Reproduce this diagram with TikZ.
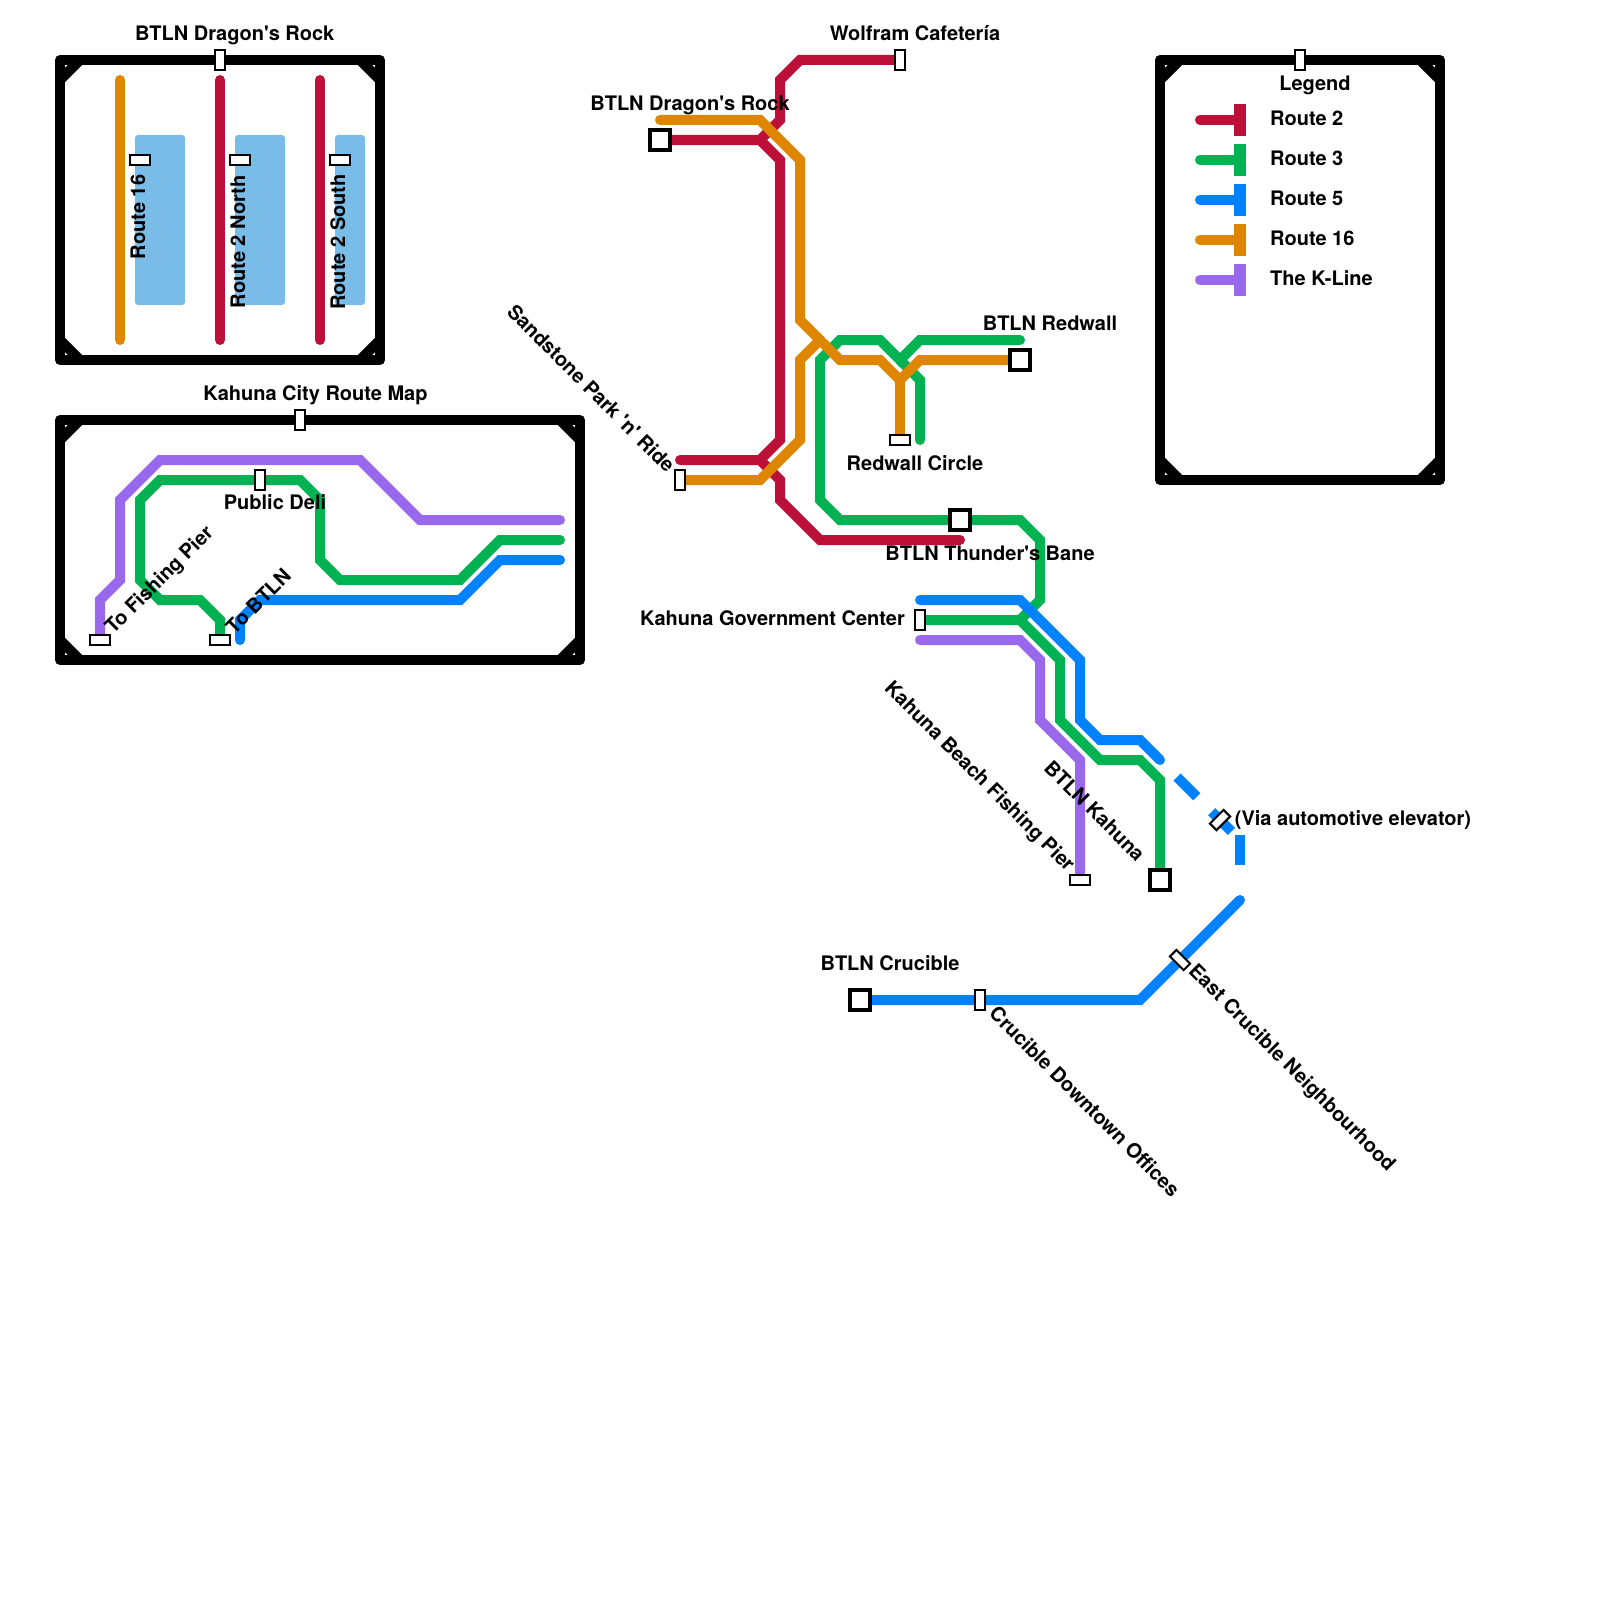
\documentclass[tikz,border=0pt]{standalone}
\usepackage{fontspec}
\newfontfamily\mapfont{TeX Gyre Heros}
\usepackage{xcolor}
\definecolor{routered}{RGB}{189,16,56}
\definecolor{routegreen}{RGB}{0,178,81}
\definecolor{routeblue}{RGB}{0,130,255}
\definecolor{routeorange}{RGB}{223,134,0}
\definecolor{routepurple}{RGB}{154,104,236}
\definecolor{waterblue}{RGB}{122,188,232}
\usetikzlibrary{backgrounds}

\begin{document}
\begin{tikzpicture}[
    x=20pt, y=-20pt,
    metro/.style={line width=10pt, line cap=round, miter limit=10},
    framebox/.style={draw=black, line width=10pt, line join=round},
    framecut/.style={draw=black, line width=10pt},
    water/.style={fill=waterblue, rounded corners=3pt},
    legbar/.style={rectangle, minimum width=12pt, minimum height=32pt, inner sep=0pt},
    stop/.style={rectangle, draw=black, fill=white, line width=2pt,
                 minimum width=19.3pt, minimum height=9.3pt, inner sep=0pt},
    stopv/.style={stop, rotate=90},
    hub/.style={rectangle, draw=black, fill=white, line width=4pt,
                minimum size=19.5pt, inner sep=0pt},
    maptext/.style={font=\mapfont\bfseries\fontsize{20}{24}\selectfont, inner sep=0pt,
                    text height=19.5pt, text depth=4.2pt},
  ]
    \useasboundingbox (0,0) rectangle (80,80);

    % inset frames
    \foreach \xa/\ya/\xb/\yb in {3/3/19/18, 3/21/29/33, 58/3/72/24} {
      \draw[framebox] (\xa,\ya) rectangle (\xb,\yb);
      \draw[framecut] (\xa,\ya+1) -- (\xa+1,\ya);
      \draw[framecut] (\xb-1,\ya) -- (\xb,\ya+1);
      \draw[framecut] (\xa,\yb-1) -- (\xa+1,\yb);
      \draw[framecut] (\xb-1,\yb) -- (\xb,\yb-1);
    }

    % stations
    \node[stopv] (dragoninset) at (11,3) {};
    \node[stop] (insetsixteen) at (7,8) {};
    \node[stop] (insetnorth) at (12,8) {};
    \node[stop] (insetsouth) at (17,8) {};
    \node[stopv] (kahunainset) at (15,21) {};
    \node[stopv] (legendstop) at (65,3) {};
    \node[stopv] (deli) at (13,24) {};
    \node[stop] (toPier) at (5,32) {};
    \node[stop] (toBtlnGreen) at (11,32) {};
    \node[stopv] (wolfram) at (45,3) {};
    \node[hub] (dragon) at (33,7) {};
    \node[hub] (redwall) at (51,18) {};
    \node[stop] (circle) at (45,22) {};
    \node[stopv] (sandstone) at (34,24) {};
    \node[hub] (thunder) at (48,26) {};
    \node[stopv] (govt) at (46,31) {};
    \node[stop] (pier) at (54,44) {};
    \node[hub] (kahuna) at (58,44) {};
    \node[stop, rotate=45] (elevator) at (61,41) {};
    \node[stop, rotate=-45] (eastcrucible) at (59,48) {};
    \node[stopv] (downtown) at (49,50) {};
    \node[hub] (crucible) at (43,50) {};

    % free line ends
    \coordinate (orangeA) at (6,4);
    \coordinate (orangeB) at (6,17);
    \coordinate (northA) at (11,4);
    \coordinate (northB) at (11,17);
    \coordinate (southA) at (16,4);
    \coordinate (southB) at (16,17);
    \coordinate (purpleEnd) at (28,26);
    \coordinate (greenEnd) at (28,27);
    \coordinate (blueEnd) at (28,28);
    \coordinate (blueStub) at (12,32);
    \coordinate (redTop) at (34,23);
    \coordinate (redEnd) at (48,27);
    \coordinate (orangeTop) at (33,6);
    \coordinate (orangeMerge) at (41,17);
    \coordinate (greenTop) at (51,17);
    \coordinate (greenStub) at (46,22);
    \coordinate (govBlue) at (46,30);
    \coordinate (govPurple) at (46,32);
    \coordinate (blueCut) at (58,38);
    \coordinate (dashA) at (58.85,38.85);
    \coordinate (dashB) at (62,42);
    \coordinate (shaftA) at (62,41.75);
    \coordinate (shaftB) at (62,43.25);
    \coordinate (blueLow) at (62,45);

    \begin{scope}[on background layer]
      % water
      \fill[water] (6.75,6.75) rectangle (9.25,15.25);
      \fill[water] (11.75,6.75) rectangle (14.25,15.25);
      \fill[water] (16.75,6.75) rectangle (18.25,15.25);
      % inset lines
      \draw[metro, routeorange] (orangeA) -- (orangeB);
      \draw[metro, routered] (northA) -- (northB);
      \draw[metro, routered] (southA) -- (southB);
      \draw[metro, routepurple] (toPier) -- (5,30) -- (6,29) -- (6,25) -- (8,23) -- (18,23) -- (21,26) -- (purpleEnd);
      \draw[metro, routegreen] (toBtlnGreen) -- (11,31) -- (10,30) -- (8,30) -- (7,29) -- (7,25) -- (8,24) -- (15,24) -- (16,25) -- (16,28) -- (17,29) -- (23,29) -- (25,27) -- (greenEnd);
      \draw[metro, routeblue] (blueStub) -- (12,31) -- (13,30) -- (23,30) -- (25,28) -- (blueEnd);
      % route 2
      \draw[metro, routered] (wolfram) -- (40,3) -- (39,4) -- (39,6) -- (38,7) -- (dragon);
      \draw[metro, routered] (38,7) -- (39,8) -- (39,22) -- (38,23) -- (redTop);
      \draw[metro, routered] (38,23) -- (39,24) -- (39,25) -- (41,27) -- (redEnd);
      % route 3
      \draw[metro, routegreen] (greenTop) -- (46,17) -- (45,18) -- (44,17) -- (42,17) -- (41,18) -- (41,25) -- (42,26) -- (51,26) -- (52,27) -- (52,30) -- (51,31) -- (govt);
      \draw[metro, routegreen] (45,18) -- (46,19) -- (greenStub);
      \draw[metro, routegreen] (51,31) -- (53,33) -- (53,36) -- (55,38) -- (57,38) -- (58,39) -- (kahuna);
      % route 5
      \draw[metro, routeblue] (govBlue) -- (51,30) -- (54,33) -- (54,36) -- (55,37) -- (57,37) -- (blueCut);
      \draw[line width=10pt, routeblue, dash pattern=on 28pt off 21pt] (dashA) -- (dashB);
      \draw[line width=10pt, routeblue] (shaftA) -- (shaftB);
      \draw[metro, routeblue] (blueLow) -- (57,50) -- (crucible);
      % route 16
      \draw[metro, routeorange] (orangeTop) -- (38,6) -- (40,8) -- (40,16) -- (42,18) -- (44,18) -- (45,19) -- (46,18) -- (redwall);
      \draw[metro, routeorange] (45,19) -- (circle);
      \draw[metro, routeorange] (sandstone) -- (38,24) -- (40,22) -- (40,18) -- (orangeMerge);
      % k-line
      \draw[metro, routepurple] (govPurple) -- (51,32) -- (52,33) -- (52,36) -- (54,38) -- (pier);
    \end{scope}

    % legend
    \foreach \yy/\col/\txt in {6/routered/Route 2, 8/routegreen/Route 3, 10/routeblue/Route 5,
                               12/routeorange/Route 16, 14/routepurple/The K-Line} {
      \coordinate (legstart\yy) at (60,\yy);
      \node[legbar, fill=\col] (legbar\yy) at (62,\yy) {};
      \draw[metro, \col] (legstart\yy) -- (legbar\yy.center);
      \node[maptext, anchor=west] (legtext\yy) at (63.5,\yy-0.12) {\txt};
    }

    % labels
    \node[maptext] (titledragon) at (234.7pt,-32.6pt) {BTLN Dragon's Rock};
    \node[maptext] (titlekahuna) at (315.5pt,-393pt) {Kahuna City Route Map};
    \node[maptext] (titlelegend) at (1315pt,-83pt) {Legend};
    \node[maptext, rotate=90] (textsixteen) at (137.5pt,-217pt) {Route 16};
    \node[maptext, rotate=90] (textnorth) at (237.5pt,-242pt) {Route 2 North};
    \node[maptext, rotate=90] (textsouth) at (337.5pt,-242pt) {Route 2 South};
    \node[maptext] (textdeli) at (275pt,-502pt) {Public Deli};
    \node[maptext, rotate=45] (textpier) at (158.5pt,-579pt) {To Fishing Pier};
    \node[maptext, rotate=45] (textbtln) at (258pt,-601pt) {To BTLN};
    \node[maptext] (textwolfram) at (915pt,-32.6pt) {Wolfram Cafetería};
    \node[maptext] (textdragon) at (690pt,-103pt) {BTLN Dragon's Rock};
    \node[maptext] (textredwall) at (1050pt,-322.4pt) {BTLN Redwall};
    \node[maptext] (textcircle) at (915pt,-463pt) {Redwall Circle};
    \node[maptext] (textthunder) at (990pt,-553pt) {BTLN Thunder's Bane};
    \node[maptext] (textgovt) at (772.5pt,-618pt) {Kahuna Government Center};
    \node[maptext, rotate=-45] (textsandstone) at (591.5pt,-388pt) {Sandstone Park 'n' Ride};
    \node[maptext, rotate=-45] (textbeach) at (980.5pt,-775.5pt) {Kahuna Beach Fishing Pier};
    \node[maptext, rotate=-45] (textkahuna) at (1095pt,-810.5pt) {BTLN Kahuna};
    \node[maptext] (textvia) at (1353pt,-818pt) {(Via automotive elevator)};
    \node[maptext, rotate=-45] (texteast) at (1293pt,-1067pt) {East Crucible Neighbourhood};
    \node[maptext, rotate=-45] (textdowntown) at (1085pt,-1101pt) {Crucible Downtown Offices};
    \node[maptext] (textcrucible) at (890pt,-963pt) {BTLN Crucible};
\end{tikzpicture}
\end{document}
